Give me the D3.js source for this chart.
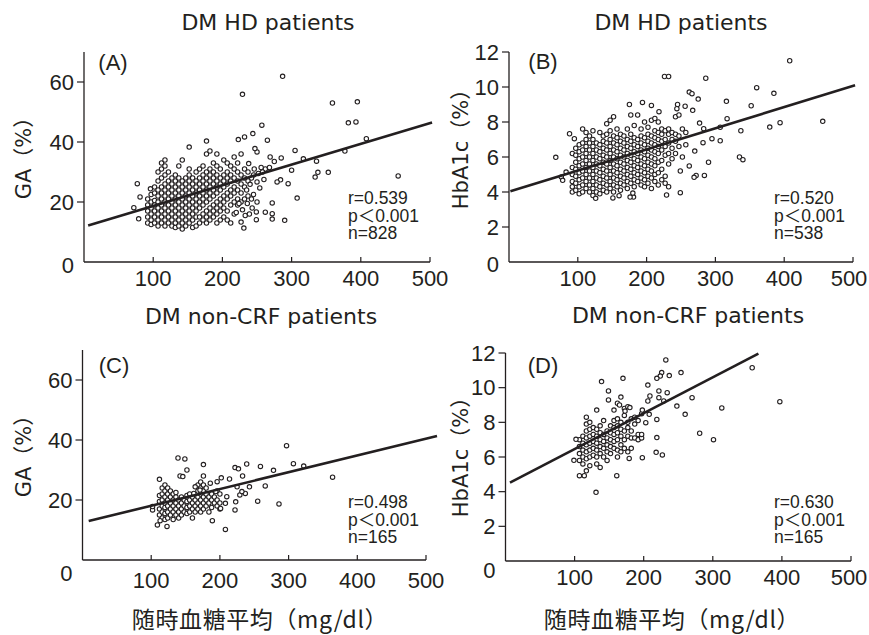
<!DOCTYPE html>
<html><head><meta charset="utf-8">
<script src="https://cdn.jsdelivr.net/npm/d3@7"></script>
<style>body{margin:0;background:#fff} svg{display:block}</style>
</head><body><svg id="c" width="869" height="635"></svg>
<script>
// ---------------- DATA ----------------
const xTicks = [100, 200, 300, 400, 500];
const gaTicks = [0, 20, 40, 60];
const hbTicks = [0, 2, 4, 6, 8, 10, 12];
const titles = ["DM HD patients", "DM HD patients", "DM non-CRF patients", "DM non-CRF patients"];
const panelLabels = ["(A)", "(B)", "(C)", "(D)"];
const yLabels = ["GA（%）", "HbA1c（%）", "GA（%）", "HbA1c（%）"];
const xLabel = "随時血糖平均（mg/dl）";
const statsA = ["r=0.539", "p＜0.001", "n=828"];
const statsB = ["r=0.520", "p＜0.001", "n=538"];
const statsC = ["r=0.498", "p＜0.001", "n=165"];
const statsD = ["r=0.630", "p＜0.001", "n=165"];
// regression lines [x1, y1, x2, y2] in data units
const fitA = [6, 12.2, 503, 46.5];
const fitB = [2, 4.04, 503, 10.1];
const fitC = [9, 13, 516, 41.3];
const fitD = [6.5, 4.52, 366, 11.96];

// (A) HD: GA vs glucose — dense cluster as columns [x, [y...]] plus scattered points
const hdGA_cols = [
 [92,[13,15,17,19,21]],[97,[12.5,14,16,18,20,22.5]],[102,[13,15,17,19,20.5,23,25]],
 [107,[12,14,16,18,20,22,24,27,30]],[112,[13,15,17,19,21,23,25,28,31,33]],
 [117,[12,14,16,18,20,22,24,26,29,32,34]],[122,[13,15,17,19,21,23,25,27,30]],
 [127,[12,14,16,18,20,22,24,26,28]],[132,[11.5,13,15,17,19,21,23,25,27,29]],
 [137,[12,14,16,18,20,22,24,26,28,32]],[142,[11,13,15,17,19,21,23,25,27,34]],
 [147,[12,14,16,18,20,22,24,26,28]],[152,[13,15,17,19,21,23,25,27,29,31]],
 [157,[11.5,14,16,18,20,22,24,26,28]],[162,[12,15,17,19,21,23,25,27,30]],
 [167,[13,15,18,20,22,24,26,28,31]],[172,[14,16,19,21,23,25,27,29,32]],
 [177,[13,15,17,20,22,24,26,28,30,36]],[182,[14,16,18,21,23,25,27,29,31,37]],
 [187,[15,17,19,22,24,26,28,30,33]],[192,[13,16,18,20,23,25,27,29,32,36]],
 [197,[14,17,19,21,24,26,28,31]],[202,[15,18,20,22,25,27,29,34]],
 [207,[14,17,21,23,26,28,30,33]],[212,[13,19,22,24,27,29,32]],
 [217,[16,20,23,25,28,31,35]],[222,[19,21,24,27,30,33]],[227,[20,23,26,29,36]],
 [232,[21,25,28,31]],[237,[22,27,30]]
];
const hdGA_pts = [[287,61.9],[229,55.9],[359,53],[395,53.4],[382,46.4],[393,46.7],[408,41.1],[377,37],
 [454,28.7],[336,33.6],[334,28.3],[338,29.9],[353,29.9],[317,34.4],[305,37.2],[300,30.6],[308,21.3],
 [290,13.9],[295,26.1],[284,27.4],[285,34.7],[279,26.7],[269,35],[265,40.6],[257,45.6],[244,42.8],
 [232,41.7],[223,40.8],[177,40.3],[152,38.3],[272,19.7],[272,16.1],[262,16.6],[272,14.3],[249,16.7],
 [249,14.1],[231,11.3],[227,13.3],[229,17.4],[250,26.7],[254,24.7],[240,25.9],[238,32.8],[250,36.7],
 [247,37.8],[77,26.1],[81,21.7],[72,18.1],[79,14.4],[96,24.4],[262,31],[268,31.5],[275,33.5],[258,30],
 [245,29],[235,24],[242,21],[236,19.5],[224,19.5],[220,16.5],[233,15.5],[242,28],[246,31],[252,29.5],
 [256,31.5],[260,27.5],[245,22.5],[250,20],[239,16],[243,18]];

// (B) HD: HbA1c vs glucose
const hdHb_cols = [
 [92,[4.0,4.3,4.6,5.0,5.4,6.2]],[97,[4.1,4.5,4.9,5.3,5.7,6.1,6.5]],[102,[3.9,4.3,4.7,5.1,5.5,5.9,6.3,6.7]],
 [107,[4.0,4.4,4.8,5.2,5.6,6.0,6.4,6.8,7.6]],[112,[4.2,4.6,5.0,5.4,5.8,6.2,6.6,7.0,7.4]],
 [117,[4.0,4.4,4.8,5.2,5.6,6.0,6.4,6.8,7.2]],[122,[3.8,4.2,4.6,5.0,5.4,5.8,6.2,6.6,7.0,7.5]],
 [127,[4.0,4.4,4.8,5.2,5.6,6.0,6.4,6.8]],[132,[3.9,4.3,4.7,5.1,5.5,5.9,6.3,6.7,7.4]],
 [137,[4.1,4.5,4.9,5.3,5.7,6.1,6.5,6.9,7.2]],[142,[4.0,4.4,4.8,5.2,5.6,6.0,6.4,6.8,7.3,7.9]],
 [147,[4.2,4.6,5.0,5.4,5.8,6.2,6.6,7.0,7.5,8.1]],[152,[4.0,4.4,4.8,5.2,5.6,6.0,6.4,6.8,7.2,8.3]],
 [157,[4.3,4.7,5.1,5.5,5.9,6.3,6.7,7.1,7.6]],[162,[4.1,4.5,4.9,5.3,5.7,6.1,6.5,6.9,7.3]],
 [167,[4.4,4.8,5.2,5.6,6.0,6.4,6.8,7.2]],[172,[4.2,4.6,5.0,5.4,5.8,6.2,6.6,7.0,7.6]],
 [177,[4.5,4.9,5.3,5.7,6.1,6.5,6.9,7.3,8.4]],[182,[4.3,4.7,5.1,5.5,5.9,6.3,6.7,7.1,7.8]],
 [187,[4.6,5.0,5.4,5.8,6.2,6.6,7.0,8.4]],[192,[4.4,4.8,5.2,5.6,6.0,6.4,6.8,7.2,7.6]],
 [197,[4.3,4.7,5.1,5.5,5.9,6.3,6.7,7.1,8.0]],[202,[4.5,4.9,5.3,5.7,6.1,6.5,6.9,7.3,7.7]],
 [207,[4.2,4.8,5.2,5.6,6.0,6.4,6.8,7.2,8.1]],[212,[4.6,5.0,5.5,5.9,6.3,6.7,7.1,7.5,8.2]],
 [217,[4.4,5.1,5.7,6.2,6.6,7.0,7.4,8.0]],[222,[4.7,5.3,5.8,6.4,6.9,7.3,7.6]],
 [227,[4.5,4.9,6.1,6.6,7.0,7.5]],[232,[4.3,5.6,6.2,6.8,7.3,7.6]],[237,[5.9,6.5,7.0,7.4]],
 [242,[6.2,6.9,7.3,8.3]],[247,[6.6,7.2,8.4]],[252,[6.0,7.6]],[257,[6.7,7.4]]
];
const hdHb_pts = [[408,11.5],[226,10.6],[232,10.6],[286,10.5],[360,9.96],[385,9.64],[262,9.71],[266,9.62],
 [275,9.31],[316,9.18],[352,8.93],[245,9.0],[256,8.9],[244,8.76],[267,8.67],[175,9.0],[194,9.12],[207,8.95],
 [218,8.59],[317,8.19],[456,8.04],[394,7.96],[379,7.71],[307,7.7],[337,7.5],[307,6.93],[295,7.05],[335,6.0],
 [340,5.85],[290,5.7],[284,4.95],[272,4.95],[269,4.84],[262,5.49],[249,5.2],[249,3.96],[229,3.83],[181,3.71],
 [176,3.71],[180,3.94],[151,3.66],[160,3.79],[126,3.64],[68,5.98],[88,7.33],[95,7.05],[83,5.14],[76,4.86],
 [78,4.67],[282,6.82],[283,7.62],[277,7.94],[270,6.34]];

// (C) non-CRF: GA vs glucose
const ncGA_cols = [
 [112,[15,17,19.5,21.5]],[116,[14,16,18,20,22,24]],[120,[13.5,15.5,17.5,19,21,23,25]],
 [124,[14,16,18,20,22,24]],[128,[15,17,19,21,23]],[132,[13.5,16,18,20,22]],[136,[15,17,19,21,22.5]],
 [140,[14,16,18,20]],[144,[15,17,19,21]],[148,[16,18,20]],[152,[15.5,17.5,19.5,21.5]],
 [156,[16,18,20,22]],[160,[14,17,19,21]],[164,[16,18,20]],[168,[17,19,21,23,25]],
 [172,[16,18,20,22,24,26]],[176,[17,19,21,23,25,28]],[180,[18,20,22,24]],[184,[16,19,21]],
 [188,[17.5,20,22]],[192,[19,21]],[196,[18,20,23]],[200,[17,19,22]]
];
const ncGA_pts = [[297,38.1],[307,32.1],[322,31.3],[364,27.6],[278,29.9],[259,31.2],[239,32],[266,24.7],
 [255,19.6],[286,18.7],[208,10.2],[139,34],[149,33.7],[152,30],[142,28],[146,27.8],[176,31.8],[123,11.2],
 [109,11.7],[113,13.1],[189,13.1],[112,26.9],[202,27.4],[214,27],[222,30.8],[227,30.4],[233,28],[243,24.4],
 [237,22.2],[222,16.7],[223,19.4],[225,24.4],[229,21.7],[232,22.8],[102,16.7],[102,17.8],[196,26.1],
 [186,25.6],[194,22.8],[210,21.1],[208,18.9],[201,17.2],[162,22.2],[164,24.4],[171,23.3]];

// (D) non-CRF: HbA1c vs glucose
const ncHb_cols = [
 [107,[5.8,6.2,6.6,7.0]],[112,[5.6,6.0,6.4,6.8,7.2]],[117,[5.2,5.9,6.3,6.7,7.1,7.5,7.9,8.3]],
 [122,[5.5,6.0,6.4,6.8,7.2,7.6,8.0]],[127,[6.1,6.5,6.9,7.3,7.7]],[132,[5.6,6.0,6.4,6.8,7.2,7.6]],
 [137,[5.4,6.2,6.6,7.0,7.4,7.8]],[142,[6.0,6.5,6.9,7.3,8.1]],[147,[5.8,6.3,6.7,7.1,7.5]],
 [152,[6.2,6.6,7.0,7.4,7.8]],[157,[6.5,6.9,7.3,7.7,8.1]],[162,[6.0,6.4,7.0,7.4,7.8,8.2,9.1]],
 [167,[6.3,6.7,7.2,7.6,8.0]],[172,[6.5,7.0,7.5,8.4,8.8]],[177,[6.3,7.2,7.7,8.0,8.9]],
 [182,[6.5,7.1,7.5,8.2]],[187,[7.1,7.9,8.3]],[192,[7.0,7.3,8.1]],[197,[7.1,7.3,8.5]]
];
const ncHb_pts = [[232,11.6],[357,11.15],[254,10.87],[237,10.7],[226,10.87],[224,10.67],[219,10.54],
 [170,10.54],[139,10.35],[206,10.15],[397,9.19],[270,9.42],[248,8.94],[260,8.46],[313,8.83],[281,7.37],
 [301,7.0],[227,6.12],[218,6.27],[219,7.12],[219,8.17],[198,5.96],[161,4.92],[131,3.96],[107,4.92],
 [114,4.92],[99,5.81],[102,7.02],[179,5.92],[209,9.52],[206,9.23],[229,9.23],[234,9.71],[222,9.81],
 [222,9.42],[203,7.98],[208,8.46],[149,9.81],[149,9.29],[167,9.46],[132,8.71],[165,9.0],[180,8.85],
 [173,8.65],[198,8.71],[157,8.71]];

// ---------------- DRAW ----------------
const INK = "#231f20";
const LATIN = "'Liberation Sans', Arial, 'Noto Sans CJK JP', sans-serif";
const WIDE = "'DejaVu Sans', 'Noto Sans CJK JP', sans-serif";
const CJK = "'Noto Sans CJK JP', 'DejaVu Sans', sans-serif";
const svg = d3.select("#c");
const W = 869;

function expand(cols) {
  const out = [];
  cols.forEach(([x, ys]) => ys.forEach(y => out.push([x, y])));
  return out;
}

const panels = [
  {pts: expand(hdGA_cols).concat(hdGA_pts), fit: fitA, yMax: 70, yTicks: gaTicks, stats: statsA,
   xr: [84, 430], yr: [262, 52], title: [268, 22], lab: [113, 62], st: [348, 198], yl: [24, 153],
   xTickOff: 16, zeroOff: 3, xLab: null},
  {pts: expand(hdHb_cols).concat(hdHb_pts), fit: fitB, yMax: 12, yTicks: hbTicks, stats: statsB,
   xr: [509, 853], yr: [262, 52], title: [681, 22], lab: [543, 61], st: [774, 198], yl: [461, 144],
   xTickOff: 16, zeroOff: 2, xLab: null},
  {pts: expand(ncGA_cols).concat(ncGA_pts), fit: fitC, yMax: 70, yTicks: gaTicks, stats: statsC,
   xr: [82.5, 426], yr: [560, 350], title: [261, 316], lab: [114, 365], st: [348, 502], yl: [24, 451],
   xTickOff: 20, zeroOff: 13, xLab: [260, 618]},
  {pts: expand(ncHb_cols).concat(ncHb_pts), fit: fitD, yMax: 12, yTicks: hbTicks, stats: statsD,
   xr: [505.5, 851], yr: [561, 353], title: [688, 315], lab: [543, 365], st: [774, 502], yl: [461, 452],
   xTickOff: 16, zeroOff: 9, xLab: [672, 618]}
];

panels.forEach((p, i) => {
  const x = d3.scaleLinear().domain([0, 500]).range(p.xr);
  const y = d3.scaleLinear().domain([0, p.yMax]).range(p.yr);
  const g = svg.append("g");

  // title
  g.append("text").attr("x", p.title[0]).attr("y", p.title[1])
    .attr("text-anchor", "middle").attr("dominant-baseline", "central")
    .attr("font-family", WIDE).attr("font-size", 22).attr("fill", INK).text(titles[i]);

  // axes lines
  g.append("line").attr("x1", x(0)).attr("x2", x(0)).attr("y1", y(0)).attr("y2", y(p.yMax))
    .attr("stroke", INK).attr("stroke-width", 1.3);
  g.append("line").attr("x1", x(0)).attr("x2", x(500)).attr("y1", y(0)).attr("y2", y(0))
    .attr("stroke", INK).attr("stroke-width", 1.3);

  // x ticks (inward) and labels
  xTicks.forEach(v => {
    g.append("line").attr("x1", x(v)).attr("x2", x(v)).attr("y1", y(0)).attr("y2", y(0) - 5)
      .attr("stroke", INK).attr("stroke-width", 1.2);
    g.append("text").attr("x", Math.min(x(v), W - 20)).attr("y", y(0) + p.xTickOff)
      .attr("text-anchor", "middle").attr("dominant-baseline", "central")
      .attr("font-family", LATIN).attr("font-size", 22).attr("fill", INK).text(v);
  });

  // y ticks (outward) and labels
  p.yTicks.forEach(v => {
    if (v !== 0) {
      g.append("line").attr("x1", x(0)).attr("x2", x(0) - 7).attr("y1", y(v)).attr("y2", y(v))
        .attr("stroke", INK).attr("stroke-width", 1.2);
    }
    g.append("text").attr("x", x(0) - 10).attr("y", y(v) + (v === 0 ? p.zeroOff : 0))
      .attr("text-anchor", "end").attr("dominant-baseline", "central")
      .attr("font-family", LATIN).attr("font-size", 22).attr("fill", INK).text(v);
  });

  // y label
  g.append("text").attr("transform", `translate(${p.yl[0]},${p.yl[1]}) rotate(-90)`)
    .attr("text-anchor", "middle").attr("dominant-baseline", "central")
    .attr("font-family", WIDE).attr("font-size", 21).attr("fill", INK).text(yLabels[i]);

  // x label (bottom panels)
  if (p.xLab) {
    g.append("text").attr("x", p.xLab[0]).attr("y", p.xLab[1])
      .attr("text-anchor", "middle").attr("dominant-baseline", "central")
      .attr("font-family", CJK).attr("font-size", 23).attr("letter-spacing", 0.6)
      .attr("fill", INK).text(xLabel);
  }

  // panel label
  g.append("text").attr("x", p.lab[0]).attr("y", p.lab[1])
    .attr("text-anchor", "middle").attr("dominant-baseline", "central")
    .attr("font-family", LATIN).attr("font-size", 22).attr("fill", INK).text(panelLabels[i]);

  // points
  g.append("g").selectAll("circle").data(p.pts).join("circle")
    .attr("cx", d => x(d[0])).attr("cy", d => y(d[1])).attr("r", 2.2)
    .attr("fill", "#fff").attr("stroke", INK).attr("stroke-width", 1.1);

  // regression line
  g.append("line").attr("x1", x(p.fit[0])).attr("y1", y(p.fit[1]))
    .attr("x2", x(p.fit[2])).attr("y2", y(p.fit[3]))
    .attr("stroke", INK).attr("stroke-width", 2.6);

  // stats
  p.stats.forEach((s, k) => {
    g.append("text").attr("x", p.st[0]).attr("y", p.st[1] + k * 17.5)
      .attr("dominant-baseline", "central")
      .attr("font-family", LATIN).attr("font-size", 17.5).attr("fill", INK).text(s);
  });
});
</script></body></html>
